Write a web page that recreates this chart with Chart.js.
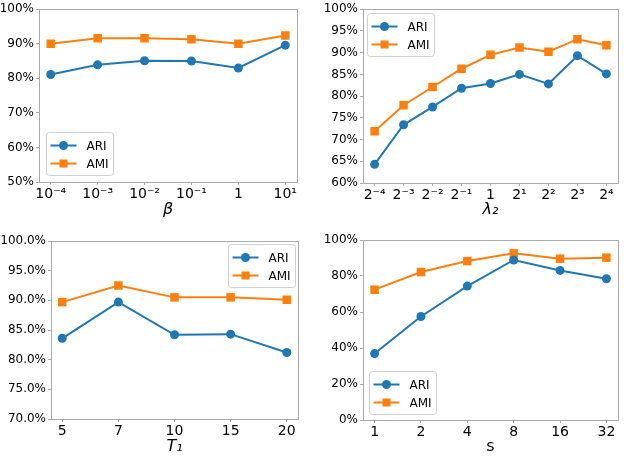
<!DOCTYPE html>
<html>
<head>
<meta charset="utf-8">
<script src="https://cdn.jsdelivr.net/npm/chart.js@4"></script>
<style>
  body { margin: 0; background: #fff; }
  #wrap { position: relative; width: 624px; height: 456px; }
  .panel { position: absolute; width: 312px; height: 228px; }
</style>
</head>
<body>
<div id="wrap">
  <div class="panel" style="left:0;top:0"><canvas id="c1"></canvas></div>
  <div class="panel" style="left:312px;top:0"><canvas id="c2"></canvas></div>
  <div class="panel" style="left:0;top:228px"><canvas id="c3"></canvas></div>
  <div class="panel" style="left:312px;top:228px"><canvas id="c4"></canvas></div>
</div>
<script>
// Panel data (values in %)
const betaLabels = ['10⁻⁴', '10⁻³', '10⁻²', '10⁻¹', '1', '10¹'];
const betaARI = [81.1, 83.9, 85.1, 85.0, 83.0, 89.6];
const betaAMI = [90.0, 91.6, 91.6, 91.3, 90.0, 92.4];

const lambdaLabels = ['2⁻⁴', '2⁻³', '2⁻²', '2⁻¹', '1', '2¹', '2²', '2³', '2⁴'];
const lambdaARI = [64.3, 73.4, 77.5, 81.8, 82.9, 85.0, 82.8, 89.3, 85.1];
const lambdaAMI = [71.9, 77.9, 82.1, 86.3, 89.5, 91.2, 90.2, 93.1, 91.7];

const t1Labels = ['5', '7', '10', '15', '20'];
const t1ARI = [83.6, 89.7, 84.2, 84.3, 81.2];
const t1AMI = [89.7, 92.5, 90.5, 90.5, 90.1];

const sLabels = ['1', '2', '4', '8', '16', '32'];
const sARI = [36.9, 57.5, 74.4, 88.9, 83.1, 78.5];
const sAMI = [72.4, 82.2, 88.3, 92.6, 89.6, 90.2];

const BLUE = '#1f77b4';
const ORANGE = '#ff7f0e';
const SPINE = '#aaaaaa';
const FONT = "'DejaVu Sans', sans-serif";

// draws the full box around the plot area
const frameBox = {
  id: 'frameBox',
  afterDatasetsDraw(chart) {
    const a = chart.chartArea, ctx = chart.ctx;
    ctx.save();
    ctx.strokeStyle = SPINE;
    ctx.lineWidth = 1;
    ctx.strokeRect(Math.round(a.left) + 0.5, Math.round(a.top) + 0.5,
      Math.round(a.right - a.left), Math.round(a.bottom - a.top));
    ctx.restore();
  }
};

// matplotlib-like legend: line with marker, inside a rounded box
const lineLegend = {
  id: 'lineLegend',
  afterDraw(chart, args, opts) {
    const a = chart.chartArea, ctx = chart.ctx;
    const w = 67, h = 43, m = opts.margin || 6;
    let x = opts.pos.includes('l') ? a.left + m : a.right - m - w;
    let y = opts.pos.includes('u') ? a.top + m : a.bottom - m - h;
    x = Math.round(x) + 0.5; y = Math.round(y) + 0.5;
    ctx.save();
    ctx.fillStyle = 'rgba(255,255,255,0.85)';
    ctx.strokeStyle = '#d0d0d0';
    ctx.lineWidth = 1;
    ctx.beginPath();
    ctx.roundRect(x, y, w, h, 3);
    ctx.fill();
    ctx.stroke();
    ctx.font = '12px ' + FONT;
    ctx.textBaseline = 'middle';
    chart.data.datasets.forEach((ds, i) => {
      const cy = y + 13 + i * 18;
      ctx.strokeStyle = ds.borderColor;
      ctx.lineWidth = 2;
      ctx.beginPath();
      ctx.moveTo(x + 4, cy);
      ctx.lineTo(x + 30, cy);
      ctx.stroke();
      ctx.fillStyle = ds.borderColor;
      if (ds.pointStyle === 'rect') {
        ctx.fillRect(x + 17 - 4, cy - 4, 8, 8);
      } else {
        ctx.beginPath();
        ctx.arc(x + 17, cy, 4.5, 0, Math.PI * 2);
        ctx.fill();
      }
      ctx.fillStyle = '#000';
      ctx.fillText(ds.label, x + 40, cy + 1);
    });
    ctx.restore();
  }
};

function makeChart(id, p) {
  const n = p.labels.length;
  const toXY = arr => arr.map((v, i) => ({ x: i, y: v }));
  return new Chart(document.getElementById(id), {
    type: 'line',
    data: {
      datasets: [
        { label: 'ARI', data: toXY(p.ari), borderColor: BLUE, backgroundColor: BLUE,
          borderWidth: 2, pointStyle: 'circle', pointRadius: 4.5, pointBorderWidth: 0 },
        { label: 'AMI', data: toXY(p.ami), borderColor: ORANGE, backgroundColor: ORANGE,
          borderWidth: 2, pointStyle: 'rect', pointRadius: 6, pointBorderWidth: 0 }
      ]
    },
    options: {
      responsive: true,
      maintainAspectRatio: false,
      animation: false,
      events: [],
      layout: { padding: { top: p.pad.top, right: p.pad.right, left: 0, bottom: 0 } },
      plugins: {
        legend: { display: false },
        tooltip: { enabled: false },
        lineLegend: { pos: p.legend, margin: p.legendMargin }
      },
      scales: {
        x: {
          type: 'linear',
          min: -0.05 * (n - 1),
          max: (n - 1) * 1.05,
          afterBuildTicks: s => { s.ticks = p.labels.map((_, i) => ({ value: i })); },
          afterFit: s => { s.height = p.xh; },
          grid: { drawOnChartArea: false, color: SPINE, tickLength: 3 },
          border: { display: false },
          ticks: { color: '#000', padding: 1, maxRotation: 0, autoSkip: false,
            font: { family: FONT, size: 14 },
            callback: v => p.labels[v] },
          title: { display: true, text: p.title, color: '#000',
            font: { family: FONT, size: 16, style: p.italic ? 'italic' : 'normal' },
            padding: { top: 0, bottom: p.titlePad } }
        },
        y: {
          min: p.ymin, max: p.ymax,
          afterBuildTicks: s => {
            const t = [];
            for (let v = p.ymin; v <= p.ymax + 1e-9; v += p.step) t.push({ value: v });
            s.ticks = t;
          },
          afterFit: s => { s.width = p.yw; },
          grid: { drawOnChartArea: false, color: SPINE, tickLength: 3 },
          border: { display: false },
          ticks: { color: '#000', padding: 2,
            font: { family: FONT, size: 12 },
            callback: v => v.toFixed(p.dec) + '%' }
        }
      }
    },
    plugins: [frameBox, lineLegend]
  });
}

makeChart('c1', { labels: betaLabels, ari: betaARI, ami: betaAMI, title: 'β', italic: true,
  ymin: 50, ymax: 100, step: 10, dec: 0, yw: 39, xh: 46, pad: { top: 5, right: 15 },
  titlePad: 9, legend: 'll', legendMargin: 7 });
makeChart('c2', { labels: lambdaLabels, ari: lambdaARI, ami: lambdaAMI, title: 'λ₂', italic: true,
  ymin: 60, ymax: 100, step: 5, dec: 0, yw: 51, xh: 45, pad: { top: 5, right: 5 },
  titlePad: 9, legend: 'ul', legendMargin: 4 });
makeChart('c3', { labels: t1Labels, ari: t1ARI, ami: t1AMI, title: 'T₁', italic: true,
  ymin: 70, ymax: 100, step: 5, dec: 1, yw: 51, xh: 37, pad: { top: 13, right: 14 },
  titlePad: 0, legend: 'ur', legendMargin: 3 });
makeChart('c4', { labels: sLabels, ari: sARI, ami: sAMI, title: 's', italic: false,
  ymin: 0, ymax: 100, step: 20, dec: 0, yw: 51, xh: 36, pad: { top: 12, right: 5 },
  titlePad: 0, legend: 'll', legendMargin: 6 });
</script>
</body>
</html>
